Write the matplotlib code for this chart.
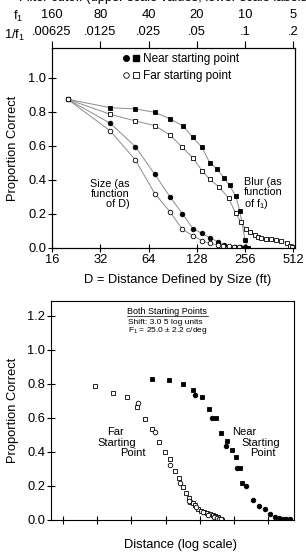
import numpy as np
import matplotlib
matplotlib.use("Agg")
import matplotlib.pyplot as plt
from matplotlib.lines import Line2D
from matplotlib.legend_handler import HandlerTuple

plt.rcParams['font.family'] = ['Liberation Sans', 'DejaVu Sans']
plt.rcParams['mathtext.fontset'] = 'custom'
plt.rcParams['mathtext.rm'] = 'Liberation Sans'
plt.rcParams['mathtext.it'] = 'Liberation Sans:italic'

# ---- top panel data: D (ft) vs proportion correct
near_sq_d = [20, 37, 53, 70, 87, 105, 121, 138, 154, 172, 190, 205, 224, 238, 256, 266]
near_sq_p = [.875, .825, .818, .798, .76, .718, .65, .592, .502, .463, .41, .368, .306, .216, .047, 0.0]
far_sq_d = [20, 37, 53, 70, 87, 104, 121, 138, 154, 176, 202, 224, 242, 258, 277, 294, 310,
            323, 348, 374, 398, 432, 465, 491, 506]
far_sq_p = [.875, .786, .747, .72, .665, .592, .53, .455, .404, .36, .294, .204, .151, .11, .092,
            .076, .065, .057, .053, .051, .047, .041, .031, .012, .004]
near_ci_d = [20, 37, 53, 70, 87, 104, 121, 138, 154, 173, 188, 207, 222, 239, 256]
near_ci_p = [.875, .733, .596, .434, .302, .202, .114, .086, .061, .037, .018, .008, .006, .004, .004]
far_ci_d = [20, 37, 53, 70, 87, 104, 121, 138, 154, 173, 187, 203, 218, 236]
far_ci_p = [.875, .688, .518, .32, .214, .11, .072, .043, .027, .018, .012, .01, .008, .006]

d_ticks = [16, 32, 64, 128, 256, 512]
f1_labels = ['160', '80', '40', '20', '10', '5']
inv_labels = ['.00625', '.0125', '.025', '.05', '.1', '.2']

# ---- bottom panel data: shifted distance (log units) vs proportion correct
b_near_sq_u = [2.6, 3.11, 3.51, 3.82, 4.08, 4.29, 4.48, 4.64, 4.8, 4.94, 5.07, 5.19, 5.25]
b_near_sq_p = [.829, .822, .802, .765, .722, .651, .598, .51, .467, .412, .372, .304, .22]
b_near_ci_u = [3.87, 4.37, 4.78, 5.1, 5.36, 5.56, 5.75, 5.92, 6.07, 6.2, 6.32, 6.44, 6.54, 6.65]
b_near_ci_p = [.735, .602, .437, .304, .2, .116, .082, .063, .037, .02, .012, .008, .006, .004]
b_far_sq_u = [0.93, 1.46, 1.86, 2.15, 2.41, 2.61, 2.82, 2.98, 3.14, 3.27, 3.39, 3.5, 3.6, 3.68,
              3.73, 3.81, 3.87, 3.95, 4.05, 4.14, 4.23, 4.31, 4.38, 4.46, 4.55, 4.63, 4.67]
b_far_sq_p = [.79, .749, .722, .667, .596, .533, .457, .40, .359, .286, .249, .196, .157, .127,
              .105, .098, .086, .067, .053, .045, .043, .037, .031, .024, .016, .006, .002]
b_far_ci_u = [2.2, 2.7, 3.13, 3.42, 3.68, 3.9, 4.1, 4.25, 4.41, 4.5, 4.58, 4.64]
b_far_ci_p = [.69, .52, .324, .216, .112, .075, .045, .027, .018, .012, .008, .005]

fig = plt.figure(figsize=(3.06, 5.52), dpi=100)
W, H = 306, 552

def pos(l, t, r, b):
    return [l / W, 1 - b / H, (r - l) / W, (b - t) / H]

FS = 9.3
lc = '#8c8c8c'
ms = 3.3

# ================= top panel
ax = fig.add_axes(pos(52, 48, 295, 248))
for d, p, m, fc in [(near_sq_d, near_sq_p, 's', 'black'), (near_ci_d, near_ci_p, 'o', 'black'),
                    (far_sq_d, far_sq_p, 's', 'white'), (far_ci_d, far_ci_p, 'o', 'white')]:
    ax.plot(d, p, color=lc, lw=0.7, zorder=1)
    ax.plot(d, p, ls='none', marker=m, ms=ms, mfc=fc, mec='black', mew=0.6, zorder=2)
ax.set_xscale('log', base=2)
ax.set_xlim(16, 525)
ax.set_ylim(0, 1.176)
ax.set_xticks(d_ticks)
ax.set_xticklabels([str(v) for v in d_ticks])
ax.minorticks_off()
ax.set_yticks(np.arange(0, 1.01, 0.2))
ax.set_yticklabels(['%.1f' % v for v in np.arange(0, 1.01, 0.2)])
ax.tick_params(direction='inout', length=6, width=0.8, labelsize=FS, pad=1)
ax.set_xlabel('D = Distance Defined by Size (ft)', fontsize=FS)
ax.xaxis.set_label_coords(0.518, -0.13)
ax.set_ylabel('Proportion Correct', fontsize=FS)
ax.yaxis.set_label_coords(-0.135, 0.5)

top = ax.twiny()
top.set_xscale('log', base=2)
top.set_xlim(ax.get_xlim())
top.set_xticks(d_ticks)
top.set_xticklabels([a + '\n' + b for a, b in zip(f1_labels, inv_labels)], linespacing=1.55)
top.minorticks_off()
top.tick_params(direction='out', length=5, width=0.8, labelsize=FS, pad=2)

h_near = (Line2D([], [], ls='none', marker='o', ms=4, mfc='black', mec='black'),
          Line2D([], [], ls='none', marker='s', ms=4, mfc='black', mec='black'))
h_far = (Line2D([], [], ls='none', marker='o', ms=4, mfc='white', mec='black', mew=0.6),
         Line2D([], [], ls='none', marker='s', ms=4, mfc='white', mec='black', mew=0.6))
ax.legend([h_near, h_far], ['Near starting point', 'Far starting point'],
          handler_map={tuple: HandlerTuple(ndivide=None, pad=0.3)}, loc='upper left',
          bbox_to_anchor=(0.265, 1.01), frameon=False, fontsize=8.5, handlelength=1.3,
          handletextpad=0.35, labelspacing=0.45, borderaxespad=0.2)

ax.text(0.32, 0.27, 'Size (as\nfunction\nof D)', transform=ax.transAxes, ha='right', va='center',
        fontsize=7.8, linespacing=0.95)
ax.text(0.79, 0.27, 'Blur (as\nfunction\nof f$_\\mathregular{1}$)', transform=ax.transAxes, ha='left',
        va='center', fontsize=7.8, linespacing=0.95)

fig.text(18 / W, 1 - 16 / H, 'f$_\\mathregular{1}$', ha='center', va='center', fontsize=FS)
fig.text(15 / W, 1 - 35 / H, '1/f$_\\mathregular{1}$', ha='center', va='center', fontsize=FS)
fig.text(165 / W, 1 + 2 / H, 'Filter cutoff (upper scale values, lower scale labels)',
         ha='center', va='center', fontsize=FS)

# ================= bottom panel
bx = fig.add_axes(pos(51, 301, 294, 520))
bx.plot(b_near_sq_u, b_near_sq_p, ls='none', marker='s', ms=ms, mfc='black', mec='black', mew=0.6)
bx.plot(b_near_ci_u, b_near_ci_p, ls='none', marker='o', ms=ms, mfc='black', mec='black', mew=0.6)
bx.plot(b_far_sq_u, b_far_sq_p, ls='none', marker='s', ms=ms, mfc='white', mec='black', mew=0.6)
bx.plot(b_far_ci_u, b_far_ci_p, ls='none', marker='o', ms=ms, mfc='white', mec='black', mew=0.6)
bx.set_xlim(-0.36, 6.77)
bx.set_ylim(0, 1.288)
bx.set_xticks(np.arange(0, 7))
bx.set_xticklabels([])
bx.set_yticks(np.arange(0, 1.21, 0.2))
bx.set_yticklabels(['%.1f' % v for v in np.arange(0, 1.21, 0.2)])
bx.tick_params(direction='inout', length=6, width=0.8, labelsize=FS, pad=1)
bx.set_ylabel('Proportion Correct', fontsize=FS)
bx.yaxis.set_label_coords(-0.132, 0.5)
fig.text(181 / W, 1 - 545 / H, 'Distance (log scale)', ha='center', va='center', fontsize=FS)

fig.text(127 / W, 1 - 311 / H, 'Both Starting Points', fontsize=6.5, va='center')
fig.add_artist(Line2D([127 / W, 208 / W], [1 - 316 / H, 1 - 316 / H], color='black', lw=0.5))
fig.text(128 / W, 1 - 323 / H, 'Shift: 3.0 5 log units', fontsize=6, va='center')
fig.text(128 / W, 1 - 331 / H, 'F$_\\mathregular{1}$ = 25.0 \u00b1 2.2 c/deg', fontsize=6,
         va='center')

for s, x, y in [('Far', 124, 432), ('Starting', 136, 443), ('Point', 146, 453)]:
    fig.text(x / W, 1 - y / H, s, ha='right', va='center', fontsize=8)
for s, x, y in [('Near', 232, 432), ('Starting', 241, 443), ('Point', 250, 453)]:
    fig.text(x / W, 1 - y / H, s, ha='left', va='center', fontsize=8)

fig.savefig('out.png', dpi=100)
